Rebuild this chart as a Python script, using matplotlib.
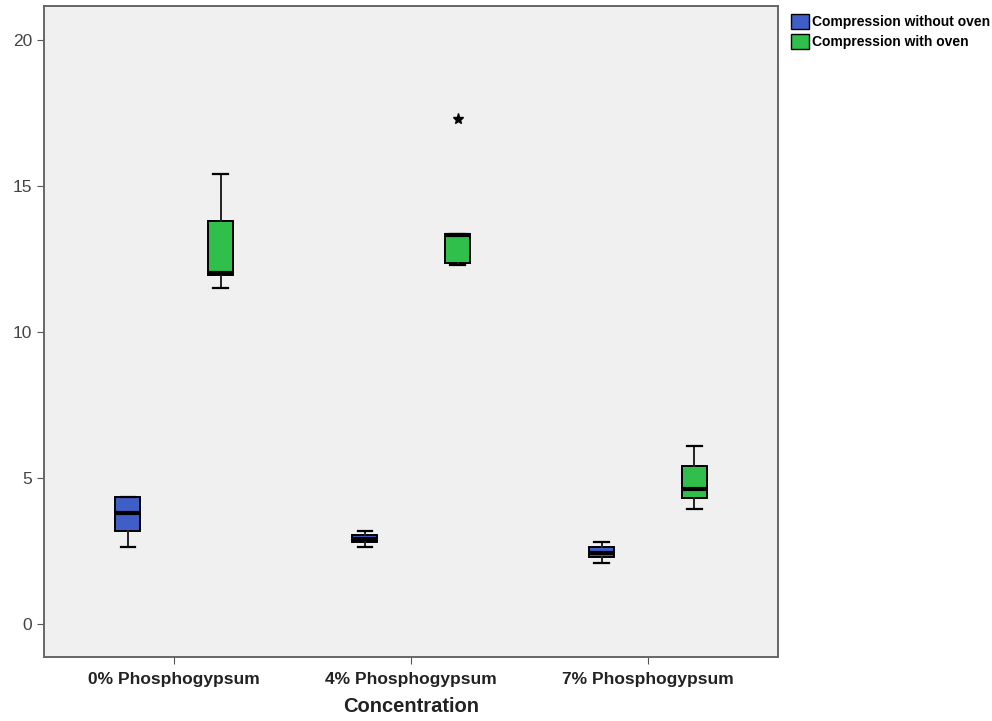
import matplotlib.pyplot as plt
from matplotlib.patches import Patch

categories = ["0% Phosphogypsum", "4% Phosphogypsum", "7% Phosphogypsum"]
series = ["Compression without oven", "Compression with oven"]
colors = ["#3F5EC6", "#2FBF4A"]

# box stats: whislo, q1, med, q3, whishi
without_oven = [
    [2.64, 3.18, 3.80, 4.33, 4.33],
    [2.64, 2.80, 2.92, 3.05, 3.18],
    [2.09, 2.29, 2.43, 2.64, 2.81],
]
with_oven = [
    [11.50, 11.95, 12.00, 13.80, 15.40],
    [12.30, 12.36, 13.30, 13.36, 13.36],
    [3.94, 4.31, 4.62, 5.41, 6.10],
]
with_oven_fliers = [[], [17.3], []]

plt.rcParams["font.family"] = ["Liberation Sans", "DejaVu Sans"]

fig = plt.figure(figsize=(9.92, 7.21), dpi=100)
ax = fig.add_axes([0.0444, 0.0888, 0.740, 0.903])
ax.set_facecolor("#F0F0F0")


def make_stats(rows, fliers=None):
    out = []
    for i, (lo, q1, med, q3, hi) in enumerate(rows):
        out.append(dict(whislo=lo, q1=q1, med=med, q3=q3, whishi=hi,
                        fliers=(fliers[i] if fliers else [])))
    return out


offset = 0.196
for k, (rows, fl) in enumerate([(without_oven, None), (with_oven, with_oven_fliers)]):
    pos = [i + (offset if k else -offset) for i in range(len(categories))]
    ax.bxp(make_stats(rows, fl), positions=pos, widths=0.105, patch_artist=True,
           capwidths=0.06,
           boxprops=dict(facecolor=colors[k], edgecolor="black", linewidth=1.4),
           medianprops=dict(color="black", linewidth=3),
           whiskerprops=dict(color="#222222", linewidth=1.4),
           capprops=dict(color="black", linewidth=1.6),
           flierprops=dict(marker="*", markerfacecolor="black",
                           markeredgecolor="black", markersize=8))

ax.set_xlim(-0.549, 2.549)
ax.set_ylim(-1.13, 21.16)
ax.set_yticks([0, 5, 10, 15, 20])
ax.set_xticks(range(len(categories)))
ax.set_xticklabels(categories, fontsize=12.5, fontweight="bold", color="#222222")
ax.tick_params(axis="y", labelsize=12.5, labelcolor="#444444", length=5, color="#555555")
ax.tick_params(axis="x", length=5, color="#555555", pad=6)
ax.set_xlabel("Concentration", fontsize=14.5, fontweight="bold", color="#222222",
              labelpad=7)
for s in ax.spines.values():
    s.set_color("#666666")
    s.set_linewidth(1.4)

handles = [Patch(facecolor=c, edgecolor="black", label=l) for c, l in zip(colors, series)]
fig.legend(handles=handles, loc="upper left", bbox_to_anchor=(0.792, 0.988),
           frameon=False, prop=dict(weight="bold", size=10),
           handlelength=1.3, handleheight=1.3, handletextpad=0.2,
           labelspacing=0.3, borderaxespad=0)

fig.savefig("out.png", dpi=100)
plt.close(fig)
